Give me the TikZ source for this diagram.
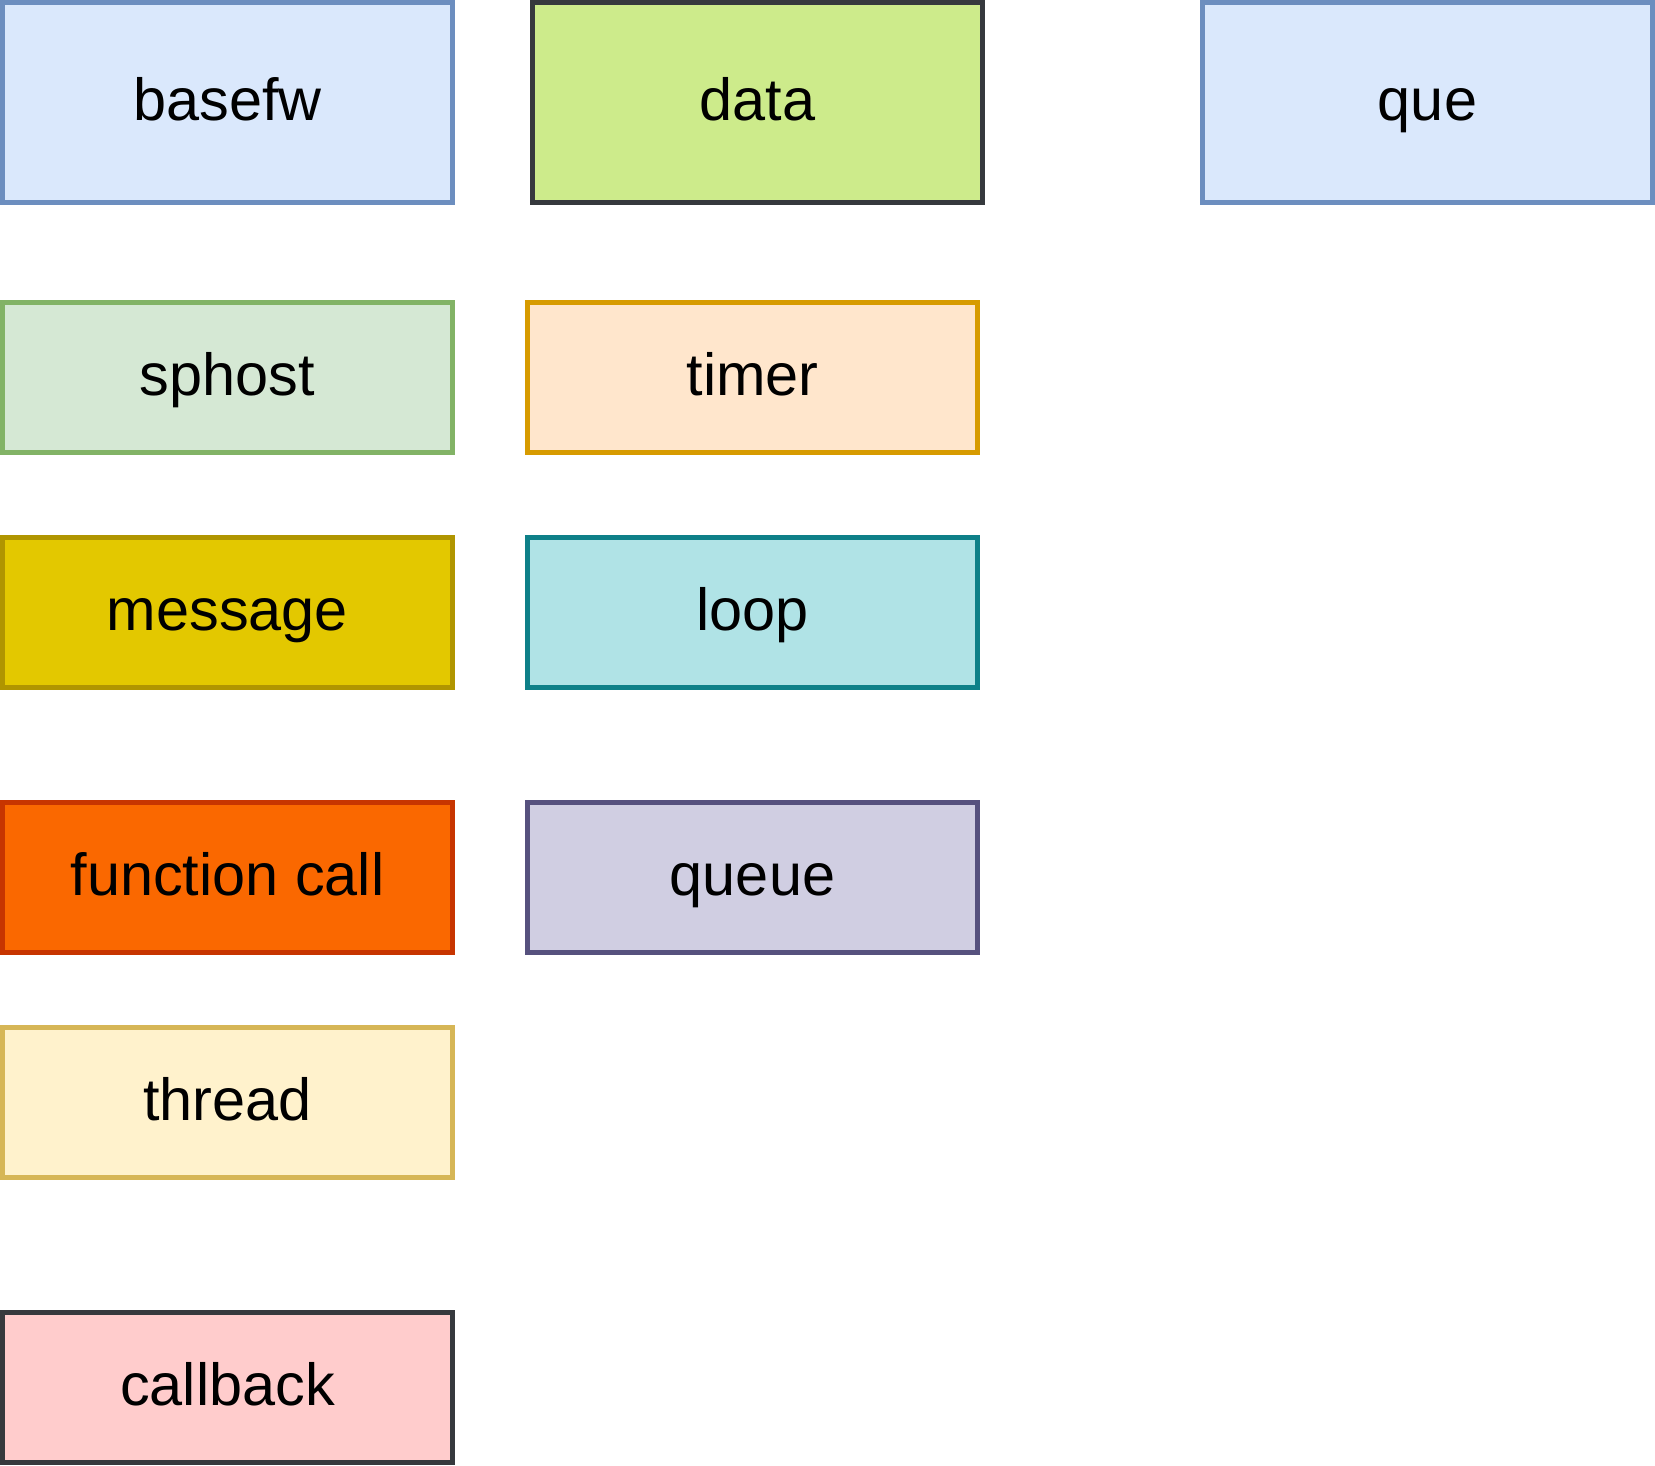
\documentclass[tikz,border=0pt]{standalone}
\usepackage{fontspec}
\setmainfont{Liberation Sans}
\definecolor{blueF}{HTML}{DAE8FC}\definecolor{blueD}{HTML}{6C8EBF}
\definecolor{limeF}{HTML}{CDEB8B}\definecolor{darkD}{HTML}{36393D}
\definecolor{greenF}{HTML}{D5E8D4}\definecolor{greenD}{HTML}{82B366}
\definecolor{orangeF}{HTML}{FFE6CC}\definecolor{orangeD}{HTML}{D79B00}
\definecolor{yellowF}{HTML}{E3C800}\definecolor{yellowD}{HTML}{B09500}
\definecolor{tealF}{HTML}{B0E3E6}\definecolor{tealD}{HTML}{0E8088}
\definecolor{redF}{HTML}{FA6800}\definecolor{redD}{HTML}{C73500}
\definecolor{purpleF}{HTML}{D0CEE2}\definecolor{purpleD}{HTML}{56517E}
\definecolor{sandF}{HTML}{FFF2CC}\definecolor{sandD}{HTML}{D6B656}
\definecolor{pinkF}{HTML}{FFCCCC}
\tikzset{
  blk/.style={draw, line width=0.05cm, minimum width=4.5cm, minimum height=1.5cm,
    inner sep=0pt, text height=0.45cm, text depth=0.1cm,
    font=\fontsize{16.9pt}{20pt}\selectfont},
  tall/.style={minimum height=2cm}
}
\begin{document}
\begin{tikzpicture}[x=0.01cm, y=-0.01cm]
      \useasboundingbox (0,0) rectangle (1655,1465);
      %\draw [help lines] (0,0) grid (1655,1465);
      \node[blk, tall, fill=blueF, draw=blueD] (basefw) at (227.5,102.5) {basefw};
      \node[blk, tall, fill=limeF, draw=darkD] (data) at (757.5,102.5) {data};
      \node[blk, tall, fill=blueF, draw=blueD] (que) at (1427.5,102.5) {que};

      \node[blk, fill=greenF, draw=greenD] (sphost) at (227.5,377.5) {sphost};
      \node[blk, fill=orangeF, draw=orangeD] (timer) at (752.5,377.5) {timer};
      \node[blk, fill=yellowF, draw=yellowD] (message) at (227.5,612.5) {message};
      \node[blk, fill=tealF, draw=tealD] (loop) at (752.5,612.5) {loop};
      \node[blk, fill=redF, draw=redD] (funccall) at (227.5,877.5) {function call};
      \node[blk, fill=purpleF, draw=purpleD] (queue) at (752.5,877.5) {queue};
      \node[blk, fill=sandF, draw=sandD] (thread) at (227.5,1102.5) {thread};
      \node[blk, fill=pinkF, draw=darkD] (callback) at (227.5,1387.5) {callback};
    \end{tikzpicture}
\end{document}
